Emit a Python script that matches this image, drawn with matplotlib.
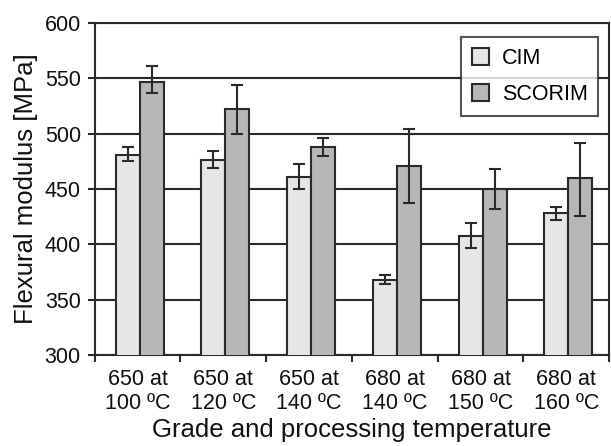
import matplotlib.pyplot as plt
import numpy as np

plt.rcParams['font.family'] = ['Liberation Sans', 'DejaVu Sans']

# Data
groups = ['650 at\n100 ºC', '650 at\n120 ºC', '650 at\n140 ºC',
          '680 at\n140 ºC', '680 at\n150 ºC', '680 at\n160 ºC']
cim = [481, 476, 461, 368, 408, 428]
cim_lo = [475, 469, 450, 364, 397, 422]
cim_hi = [488, 484, 473, 372, 419, 434]
scorim = [547, 522, 488, 471, 450, 460]
scorim_lo = [537, 500, 480, 437, 432, 426]
scorim_hi = [561, 544, 496, 504, 468, 492]

fig = plt.figure(figsize=(6.11, 4.46), dpi=100)
ax = fig.add_axes([0.155, 0.204, 0.842, 0.744])

x = np.arange(len(groups))
w = 0.28
edge = '#2a2a2a'
txt = '#111111'
lw = 1.5

cim_err = [np.array(cim) - np.array(cim_lo), np.array(cim_hi) - np.array(cim)]
sc_err = [np.array(scorim) - np.array(scorim_lo), np.array(scorim_hi) - np.array(scorim)]

ax.bar(x - w / 2 + 0.025, cim, w, color='#e6e6e6', edgecolor=edge,
       linewidth=lw, label='CIM', zorder=3,
       yerr=cim_err, error_kw=dict(ecolor=edge, elinewidth=lw, capsize=4.5, capthick=lw))
ax.bar(x + w / 2 + 0.025, scorim, w, color='#b7b7b7', edgecolor=edge,
       linewidth=lw, label='SCORIM', zorder=3,
       yerr=sc_err, error_kw=dict(ecolor=edge, elinewidth=lw, capsize=4.5, capthick=lw))

ax.set_ylim(300, 600)
ax.set_xlim(-0.5, len(groups) - 0.5)
ax.set_yticks([300, 350, 400, 450, 500, 550, 600])
ax.yaxis.grid(True, color=edge, linewidth=lw, zorder=0)
ax.set_axisbelow(True)

ax.set_xticks(x)
ax.set_xticklabels(groups)
ax.tick_params(axis='x', length=0, labelsize=15.5, pad=10, colors=txt)
ax.set_xticks(np.arange(len(groups) + 1) - 0.5, minor=True)
ax.tick_params(axis='x', which='minor', length=5, width=lw, direction='out', color=edge)
ax.tick_params(axis='y', length=5, width=lw, direction='out', labelsize=15.5, pad=5,
               color=edge, labelcolor=txt)

for s in ax.spines.values():
    s.set_color(edge)
    s.set_linewidth(lw)

ax.set_ylabel('Flexural modulus [MPa]', fontsize=18.5, color=txt, labelpad=5)
ax.set_xlabel('Grade and processing temperature', fontsize=18.5, color=txt, labelpad=2.5)

leg = ax.legend(loc='upper right', bbox_to_anchor=(0.979, 0.958), fontsize=15.5,
                frameon=True, fancybox=False, edgecolor=edge, handlelength=0.8,
                handleheight=0.8, borderpad=0.5, labelspacing=0.7, handletextpad=0.6,
                borderaxespad=0)
leg.get_frame().set_linewidth(lw)
leg.set_zorder(5)

plt.savefig('out.png', dpi=100)
